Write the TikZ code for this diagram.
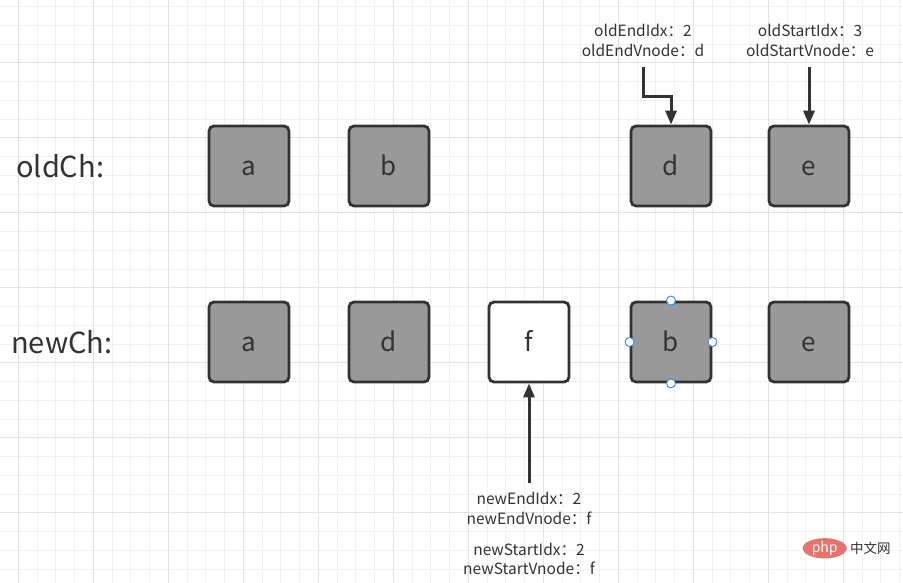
\documentclass[tikz,border=0pt]{standalone}
\usepackage{fontspec}
\setmainfont{Noto Sans CJK SC}
\usetikzlibrary{arrows.meta,shapes.geometric}
\definecolor{gminor}{HTML}{F1F1F1}
\definecolor{gmajor}{HTML}{E3E3E3}
\definecolor{ink}{HTML}{333333}
\definecolor{boxfill}{HTML}{999999}
\definecolor{handle}{HTML}{3D8FE0}
\definecolor{phpred}{HTML}{E8726C}
\tikzset{
  elem/.style={draw=ink, fill=boxfill, line width=2.8pt, rounded corners=5pt,
    minimum width=80pt, minimum height=80pt, inner sep=0pt, text=ink,
    text height=19pt, text depth=0pt,
    font=\fontsize{26}{30}\selectfont},
  newelem/.style={elem, fill=white},
  rowlbl/.style={anchor=west, text=ink, inner sep=0pt, font=\fontsize{29}{33}\selectfont},
  info/.style={align=center, text=ink, inner sep=0pt, font=\fontsize{15.5}{19.5}\selectfont},
  arr/.style={draw=ink, line width=3pt, -{Triangle[length=14pt,width=11pt]}},
  hnd/.style={circle, draw=handle, fill=white, line width=1pt, minimum size=9pt, inner sep=0pt}
}
\begin{document}
\begin{tikzpicture}[x=1pt,y=-1pt]
\useasboundingbox (0,0) rectangle (903,583);
\fill[white] (0,0) rectangle (903,583);
% grid
\foreach \i in {0,...,48} {
  \pgfmathsetmacro{\gx}{18.3+18.75*\i}
  \draw[gminor, line width=0.8pt] (\gx,0) -- (\gx,583);
}
\foreach \i in {0,...,31} {
  \pgfmathsetmacro{\gy}{6.45+18.75*\i}
  \draw[gminor, line width=0.8pt] (0,\gy) -- (903,\gy);
}
\foreach \i in {0,...,12} {
  \pgfmathsetmacro{\gx}{18.3+75*\i}
  \draw[gmajor, line width=0.9pt] (\gx,0) -- (\gx,583);
}
\foreach \i in {0,...,7} {
  \pgfmathsetmacro{\gy}{62.7+75*\i}
  \draw[gmajor, line width=0.9pt] (0,\gy) -- (903,\gy);
}
% row labels
\node[rowlbl] (oldCh) at (16,166) {oldCh:};
\node[rowlbl] (newCh) at (11,342) {newCh:};
% old children
\node[elem] (oa) at (249,166) {a};
\node[elem] (ob) at (389,166) {b};
\node[elem] (od) at (671,166) {d};
\node[elem] (oe) at (809,166) {e};
% new children
\node[elem] (na) at (249,342) {a};
\node[elem] (nd) at (389,342) {d};
\node[newelem] (nf) at (529,342) {f};
\node[elem] (nb) at (671,342) {b};
\node[elem] (ne) at (809,342) {e};
% selection handles
\node[hnd] (h1) at (nb.north) {};
\node[hnd] (h2) at (nb.south) {};
\node[hnd] (h3) at (nb.west) {};
\node[hnd] (h4) at (nb.east) {};
% info labels
\node[info] (oldEndLbl) at (643,40.5) {oldEndIdx：2\\oldEndVnode：d};
\node[info] (oldStartLbl) at (810,40.5) {oldStartIdx：3\\oldStartVnode：e};
\node[info] (newEndLbl) at (529,508.5) {newEndIdx：2\\newEndVnode：f};
\node[info] (newStartLbl) at (529,559) {newStartIdx：2\\newStartVnode：f};
% connectors
\coordinate (oeS) at (643,67);
\coordinate (osS) at (809,67);
\coordinate (neS) at (529,483);
\draw[arr] (oeS) -- ++(0,30) -| (od.north);
\draw[arr] (osS) -- (oe.north);
\draw[arr] (neS) -- (nf.south);
% watermark
\node[ellipse, fill=phpred, minimum width=44pt, minimum height=18pt, inner sep=0pt,
  text=white, font=\fontsize{14}{14}\selectfont\itshape] (phplogo) at (824.7,548.3) {php};
\node[anchor=west, text=ink, inner sep=0pt, font=\fontsize{13.5}{14}\selectfont] (phptext) at (850,548.3) {中文网};
\end{tikzpicture}
\end{document}
